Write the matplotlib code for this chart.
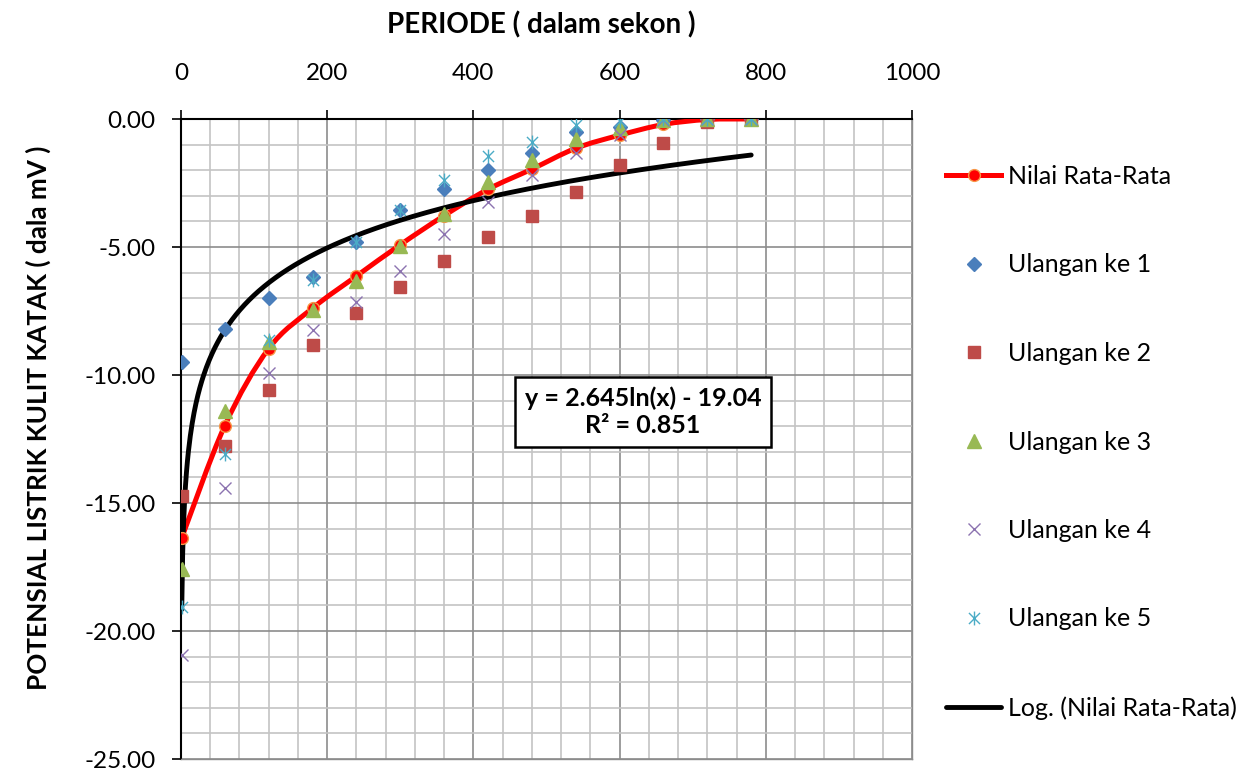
import numpy as np
import matplotlib
matplotlib.use("Agg")
import matplotlib.pyplot as plt
from matplotlib.path import Path
from matplotlib.patches import PathPatch
from matplotlib.ticker import MultipleLocator, FormatStrFormatter

plt.rcParams["font.family"] = ["Lato", "DejaVu Sans"]
plt.rcParams["axes.unicode_minus"] = False

# periode (sekon)
periode = [1, 60, 120, 180, 240, 300, 360, 420, 480, 540, 600, 660, 720, 780]

# potensial (mV) per ulangan
ulangan_1 = [-9.5, -8.2, -7.0, -6.16, -4.82, -3.55, -2.72, -2.0, -1.34, -0.5, -0.3, -0.05, 0.0, 0.0]
ulangan_2 = [-14.74, -12.77, -10.6, -8.83, -7.58, -6.57, -5.55, -4.59, -3.77, -2.85, -1.8, -0.92, -0.1, 0.0]
ulangan_3 = [-17.57, -11.39, -8.7, -7.45, -6.33, -4.95, -3.7, -2.45, -1.6, -0.8, -0.35, -0.05, 0.0, 0.0]
ulangan_4 = [-20.95, -14.41, -9.91, -8.24, -7.15, -5.94, -4.5, -3.25, -2.2, -1.33, -0.62, -0.05, 0.0, 0.0]
ulangan_5 = [-19.05, -13.1, -8.63, -6.27, -4.8, -3.55, -2.4, -1.43, -0.88, -0.24, -0.09, 0.0, 0.0, 0.0]

eq_text = "y = 2.645ln(x) - 19.04\nR\u00b2 = 0.851"

x = np.array(periode, dtype=float)
reps = np.array([ulangan_1, ulangan_2, ulangan_3, ulangan_4, ulangan_5])
rata = reps.mean(axis=0)

fig = plt.figure(figsize=(12.54, 7.73), dpi=100)
ax = fig.add_axes([181 / 1254, 1 - 759 / 773, 731 / 1254, 640 / 773])

ax.set_xlim(0, 1000)
ax.set_ylim(-25, 0)
ax.xaxis.tick_top()
ax.xaxis.set_major_locator(MultipleLocator(200))
ax.xaxis.set_minor_locator(MultipleLocator(40))
ax.yaxis.set_major_locator(MultipleLocator(5))
ax.yaxis.set_minor_locator(MultipleLocator(1))
ax.yaxis.set_major_formatter(FormatStrFormatter("%.2f"))
ax.grid(which="minor", color="#c4c4c4", lw=1.2)
ax.grid(which="major", color="#8c8c8c", lw=1.2)
ax.set_axisbelow(True)
ax.tick_params(which="major", direction="out", length=6.5, width=1.2,
               labelsize=17.5, colors="black")
ax.tick_params(axis="x", which="major", pad=19)
ax.tick_params(axis="y", which="major", pad=12)
ax.tick_params(which="minor", length=0)
ax.tick_params(axis="x", bottom=False, top=True)
for side in ("left", "top"):
    ax.spines[side].set_color("black")
    ax.spines[side].set_linewidth(1.5)
for side in ("right", "bottom"):
    ax.spines[side].set_color("#8c8c8c")
    ax.spines[side].set_linewidth(1.0)

# Excel-style smoothed line through the mean values (cubic Bezier, tension 1/6)
pts = np.column_stack([x, rata])
verts = [pts[0]]
codes = [Path.MOVETO]
n = len(pts)
for i in range(n - 1):
    p0 = pts[max(i - 1, 0)]
    p1, p2 = pts[i], pts[i + 1]
    p3 = pts[min(i + 2, n - 1)]
    verts += [p1 + (p2 - p0) / 6, p2 - (p3 - p1) / 6, p2]
    codes += [Path.CURVE4] * 3
ax.add_patch(PathPatch(Path(verts, codes), fill=False, ec="#ff0000", lw=3.6,
                       capstyle="round", zorder=3))

# log trendline of the mean
a, b = np.polyfit(np.log(x), rata, 1)
xt = np.linspace(1, 780, 600)
trend, = ax.plot(xt, a * np.log(xt) + b, color="black", lw=3.5, zorder=4,
                 solid_capstyle="round", label="Log. (Nilai Rata-Rata)")

star = Path([(-1, -1), (1, 1), (-1, 1), (1, -1), (0, -1.25), (0, 1.25)],
            [Path.MOVETO, Path.LINETO] * 3)

ax.plot(x, rata, ls="none", marker="o", ms=8.5, mfc="#ff0000",
        mec="#f79646", mew=1.0, zorder=5)
l_mean_leg, = ax.plot([], [], color="#ff0000", lw=3.6, marker="o", ms=8.5,
                      mfc="#ff0000", mec="#f79646", label="Nilai Rata-Rata")
h1, = ax.plot(x, ulangan_1, ls="none", marker="D", ms=7.5, color="#4a7ebb",
              zorder=6, label="Ulangan ke 1")
h2, = ax.plot(x, ulangan_2, ls="none", marker="s", ms=9, color="#be4b48",
              zorder=6, label="Ulangan ke 2")
h3, = ax.plot(x, ulangan_3, ls="none", marker="^", ms=9.5, color="#98b954",
              zorder=6, label="Ulangan ke 3")
h4, = ax.plot(x, ulangan_4, ls="none", marker="x", ms=9, mew=1.0,
              color="#8c73b0", zorder=6, label="Ulangan ke 4")
h5, = ax.plot(x, ulangan_5, ls="none", marker=star, ms=10, mew=1.0,
              mfc="none", color="#4bacc6", zorder=6, label="Ulangan ke 5")

fig.legend(handles=[l_mean_leg, h1, h2, h3, h4, h5, trend],
           loc="upper left", bbox_to_anchor=(946 / 1254, 1 - 165 / 773),
           frameon=False, fontsize=18, handlelength=2.2, handletextpad=0.28,
           labelspacing=2.62, borderpad=0, borderaxespad=0)

fig.text(541 / 1254, 1 - 25 / 773, "PERIODE ( dalam sekon )", ha="center",
         va="center", fontsize=20, fontweight="bold")
fig.text(38 / 1254, 1 - 418 / 773, "POTENSIAL LISTRIK KULIT KATAK ( dala mV )",
         ha="center", va="center", rotation=90, fontsize=18.8, fontweight="bold")

fig.text(643 / 1254, 1 - 412 / 773, eq_text, ha="center", va="center",
         fontsize=18, fontweight="bold", linespacing=1.2,
         bbox=dict(boxstyle="square,pad=0.4", fc="white", ec="black", lw=1.8))

fig.savefig("out.png", dpi=100)
